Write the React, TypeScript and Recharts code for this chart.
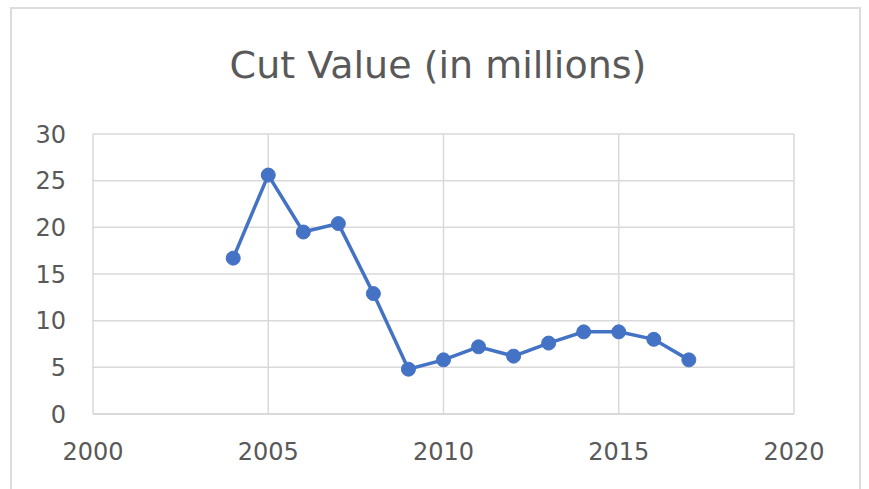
import React from "react";
import { LineChart, Line, XAxis, YAxis, CartesianGrid } from "recharts";

const years = [2004, 2005, 2006, 2007, 2008, 2009, 2010, 2011, 2012, 2013, 2014, 2015, 2016, 2017];
const cutValues = [16.7, 25.6, 19.5, 20.4, 12.9, 4.8, 5.8, 7.2, 6.2, 7.6, 8.8, 8.8, 8.0, 5.8];
const xTicks = [2000, 2005, 2010, 2015, 2020];
const yTicks = [0, 5, 10, 15, 20, 25, 30];
const title = "Cut Value (in millions)";

const data = years.map((y, i) => ({ year: y, value: cutValues[i] }));

const FONT = "'DejaVu Sans', sans-serif";
const TEXT = "#595959";
const GRID = "#d9d9d9";
const BLUE = "#4472C4";

export default function App() {
  return (
    <div style={{ position: "absolute", left: 0, top: 0, width: 869, height: 489, background: "#fff", overflow: "hidden" }}>
      <div
        style={{
          position: "absolute",
          left: 10,
          top: 7,
          width: 851,
          height: 500,
          border: "2px solid #dcdcdc",
          boxSizing: "border-box",
        }}
      />
      <div style={{ position: "absolute", left: 0, top: 0 }}>
        <LineChart width={869} height={489} data={data} margin={{ top: 134, right: 75, bottom: 15, left: 23 }}>
          <CartesianGrid stroke={GRID} strokeWidth={1.5} />
          <XAxis
            dataKey="year"
            type="number"
            domain={[2000, 2020]}
            ticks={xTicks}
            tickLine={false}
            tickSize={0}
            tickMargin={29}
            height={60}
            axisLine={{ stroke: GRID, strokeWidth: 2 }}
            tick={{ fill: TEXT, fontSize: 24, fontFamily: FONT }}
            interval={0}
          />
          <YAxis
            type="number"
            domain={[0, 30]}
            ticks={yTicks}
            tickLine={false}
            axisLine={false}
            tickSize={0}
            tickMargin={27}
            width={70}
            tick={{ fill: TEXT, fontSize: 24, fontFamily: FONT }}
            interval={0}
          />
          <Line
            type="linear"
            dataKey="value"
            stroke={BLUE}
            strokeWidth={3.5}
            dot={{ r: 7, fill: BLUE, stroke: BLUE, strokeWidth: 1 }}
            isAnimationActive={false}
          />
        </LineChart>
      </div>
      <svg width={869} height={489} style={{ position: "absolute", left: 0, top: 0, pointerEvents: "none" }}>
        <text x={438} y={78} textAnchor="middle" fill={TEXT} fontSize={38} fontFamily={FONT}>
          {title}
        </text>
      </svg>
    </div>
  );
}
